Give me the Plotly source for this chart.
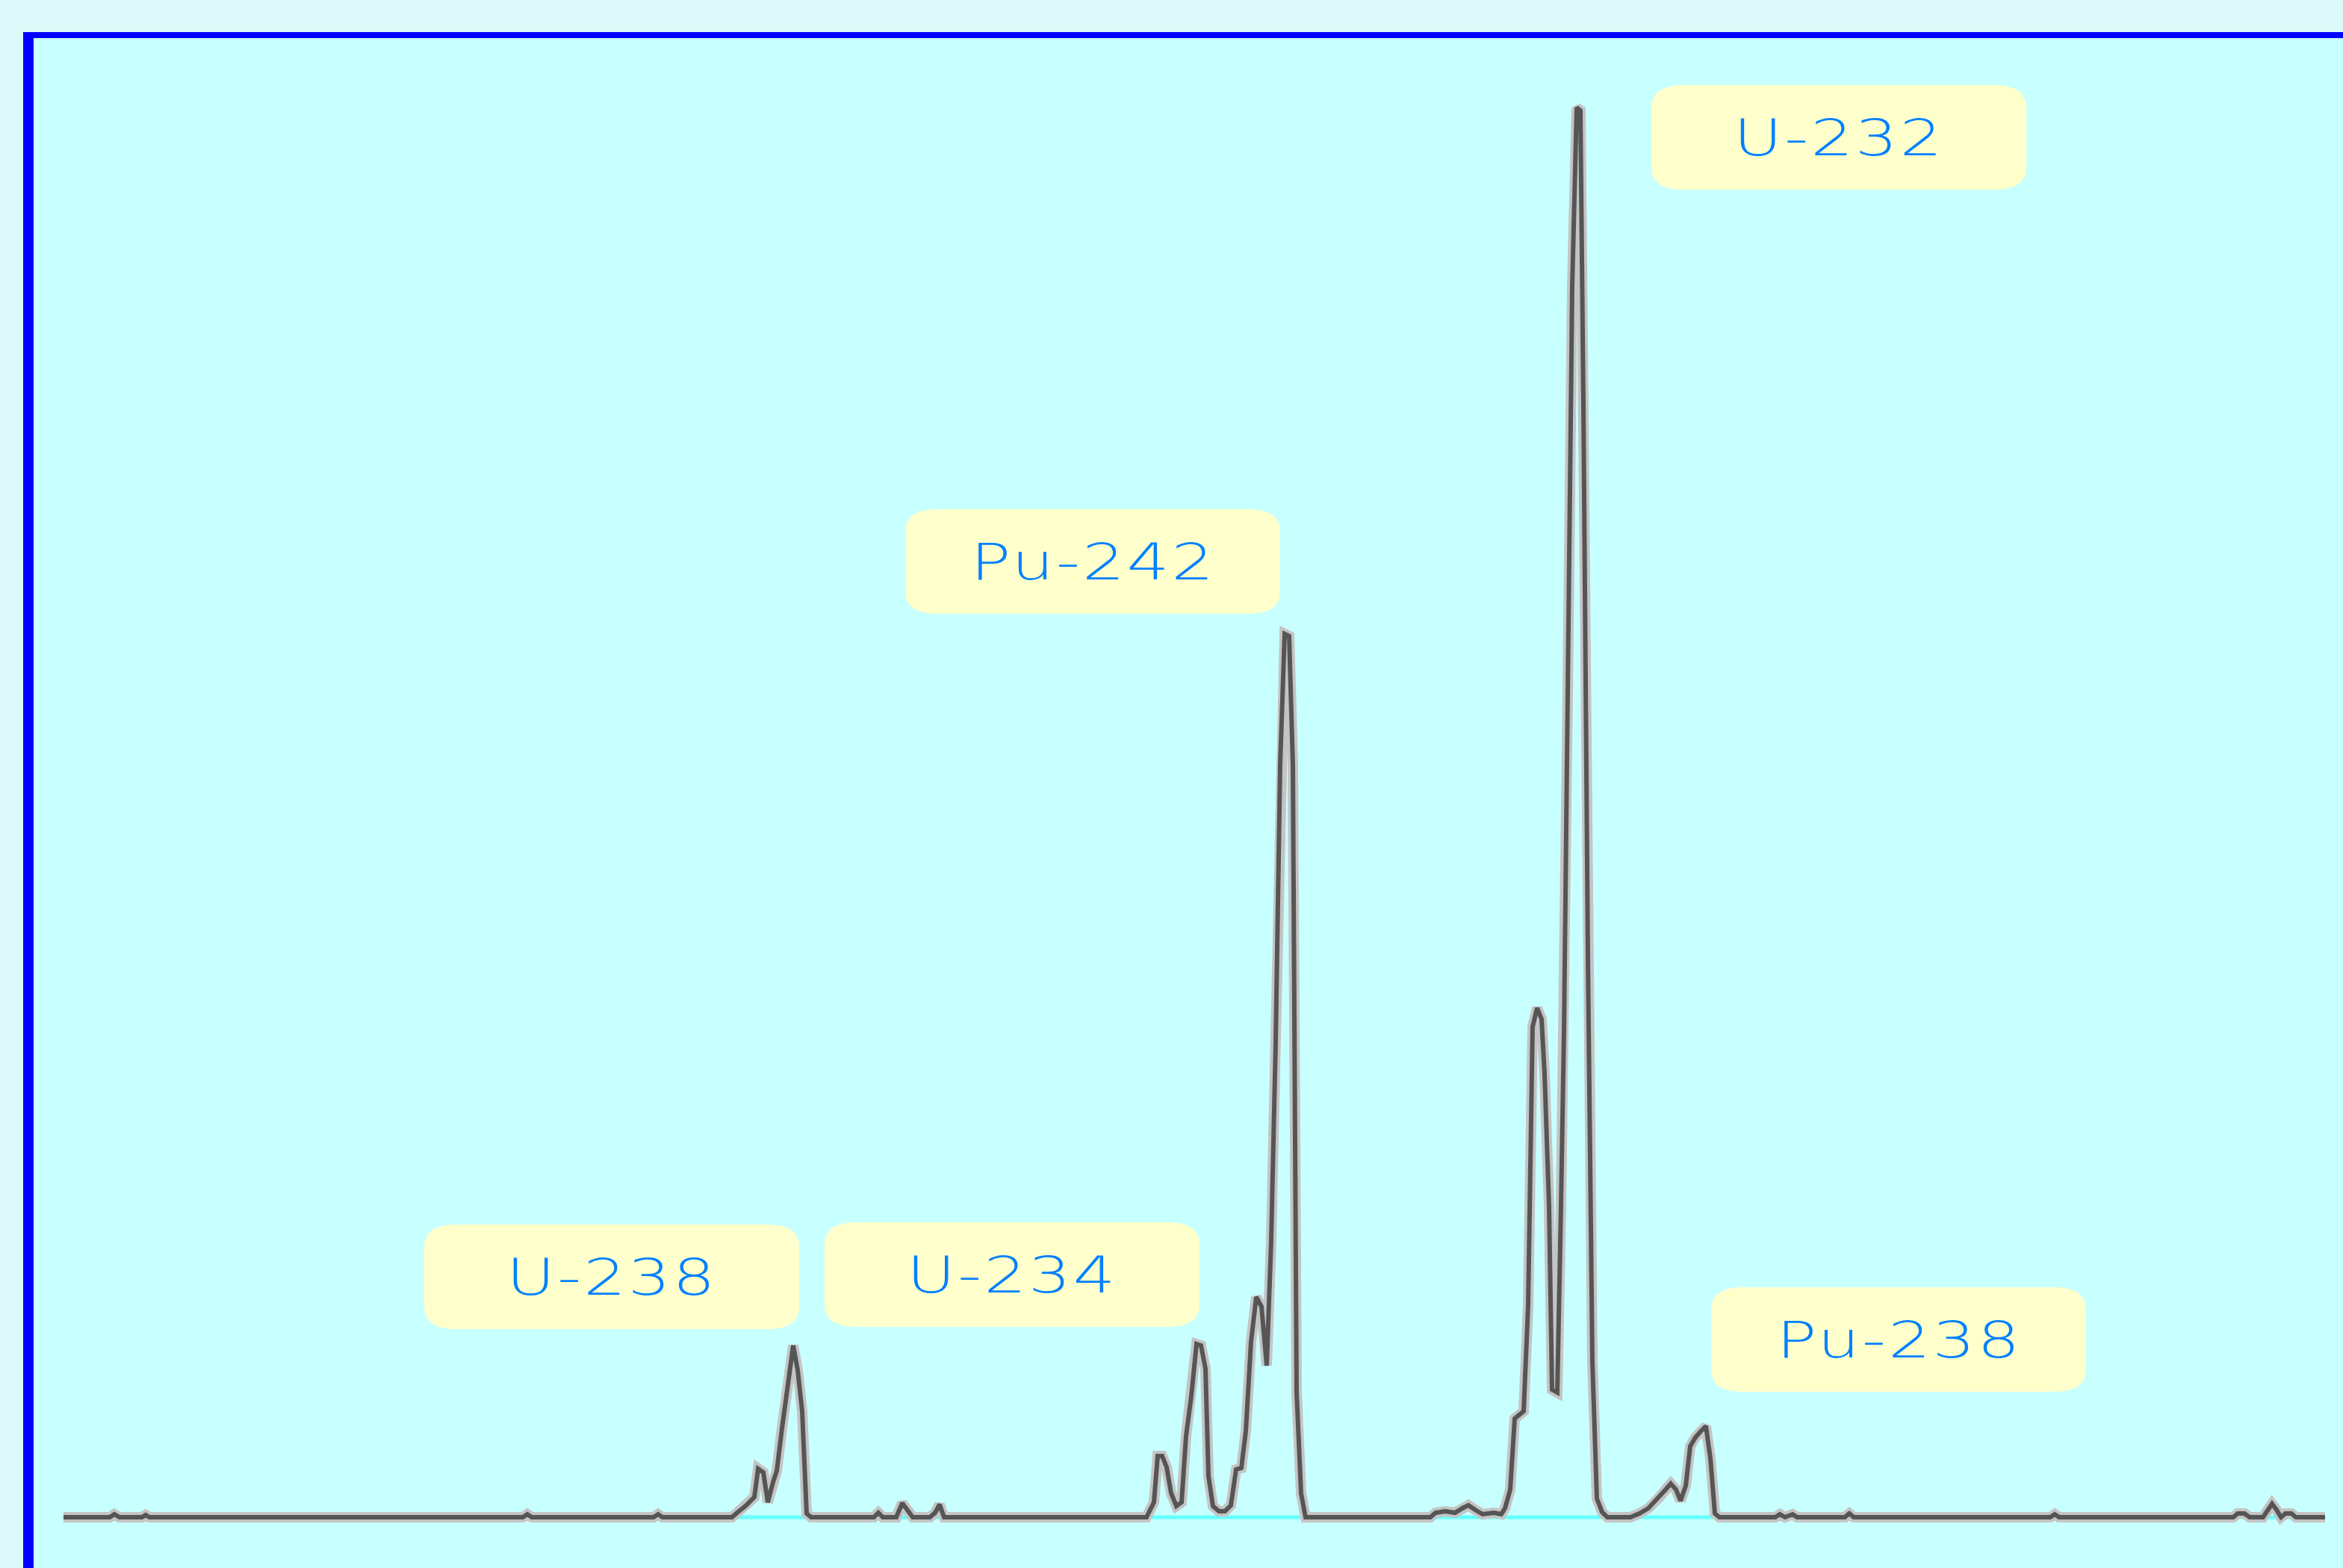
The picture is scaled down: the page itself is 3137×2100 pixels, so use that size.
import plotly.graph_objects as go

# Spectrum trace (scan position, intensity) in arbitrary units
scan_pos = [
    0, 62, 68, 75, 105, 110, 115, 615, 621, 627, 790, 796, 802,
    895, 903, 913, 925, 930, 937, 943, 950, 955, 962, 970, 977, 983, 989, 995, 1001,
    1085, 1091, 1097, 1115, 1123, 1131, 1137, 1160, 1167, 1173, 1179,
    1450, 1455, 1460, 1465, 1471, 1477, 1483, 1490, 1497, 1503, 1510, 1517, 1523, 1529,
    1533, 1539, 1547, 1555, 1563, 1570, 1577, 1583, 1590, 1597, 1604, 1611, 1617, 1623,
    1629, 1635, 1641, 1646, 1651, 1657, 1663,
    1830, 1837, 1850, 1863, 1873, 1881, 1890, 1900, 1915, 1925,
    1930, 1937, 1943, 1955, 1961, 1967, 1973, 1979, 1983, 1989, 1993, 2000, 2005, 2009,
    2014, 2020, 2026, 2031, 2035, 2041, 2047, 2053, 2060, 2067,
    2098, 2110, 2122, 2135, 2145, 2152, 2159, 2165, 2172, 2178, 2185, 2192, 2199, 2205,
    2211, 2217,
    2292, 2298, 2305, 2315, 2321, 2385, 2391, 2397, 2660, 2666, 2672,
    2905, 2911, 2920, 2927, 2945, 2951, 2957, 2963, 2969, 2975, 2983, 2989, 3028,
]
intensity = [
    0, 0, 4, 0, 0, 3, 0, 0, 4, 0, 0, 4, 0,
    0, 7, 15, 27, 65, 60, 20, 47, 62, 119, 182, 230, 197, 142, 5, 0,
    0, 6, 0, 0, 19, 8, 0, 0, 6, 17, 0,
    0, 10, 20, 82, 82, 67, 32, 15, 20, 109, 162, 232, 230, 199,
    55, 15, 8, 8, 16, 64, 66, 115, 235, 295, 282, 203, 371, 636,
    1008, 1183, 1180, 1008, 167, 32, 0,
    0, 6, 8, 6, 12, 16, 10, 4, 6, 4,
    12, 37, 132, 142, 284, 657, 682, 667, 594, 417, 171, 167, 417, 650,
    1105, 1648, 1888, 1884, 1490, 752, 209, 25, 7, 0,
    0, 5, 12, 25, 37, 45, 37, 22, 42, 95, 107, 115, 122, 79,
    5, 0,
    0, 4, 0, 4, 0, 0, 5, 0, 0, 4, 0,
    0, 5, 5, 0, 0, 10, 18, 10, 0, 5, 5, 0, 0,
]

# Peak labels
label_text = ["U-238", "U-234", "Pu-242", "U-232", "Pu-238"]
label_x = [734, 1270, 1378, 2377, 2457]
label_y = [322, 325, 1280, 1848, 238]

BOX_HW, BOX_HH, RX, RY = 251, 70, 42, 30

fig = go.Figure()

# cyan baseline
fig.add_trace(go.Scatter(
    x=[scan_pos[0], scan_pos[-1]], y=[0, 0], mode="lines",
    line=dict(color="#66ffff", width=5), hoverinfo="skip", showlegend=False))
# light halo
fig.add_trace(go.Scatter(
    x=scan_pos, y=intensity, mode="lines",
    line=dict(color="#c4c4c4", width=14), hoverinfo="skip", showlegend=False))
# dark core
fig.add_trace(go.Scatter(
    x=scan_pos, y=intensity, mode="lines",
    line=dict(color="#555555", width=6), showlegend=False))

shapes = []
for cx, cy in zip(label_x, label_y):
    x0, x1 = cx - BOX_HW, cx + BOX_HW
    y0, y1 = cy - BOX_HH, cy + BOX_HH
    path = (f"M {x0+RX},{y0} L {x1-RX},{y0} Q {x1},{y0} {x1},{y0+RY} "
            f"L {x1},{y1-RY} Q {x1},{y1} {x1-RX},{y1} L {x0+RX},{y1} "
            f"Q {x0},{y1} {x0},{y1-RY} L {x0},{y0+RY} Q {x0},{y0} {x0+RX},{y0} Z")
    shapes.append(dict(type="path", path=path, xref="x", yref="y",
                       fillcolor="#ffffcc", line=dict(width=0), layer="above"))

W, H = 3137, 2100
L, T = 45, 51
pw, ph = W - L, H - T
# blue frame (left and top)
shapes.append(dict(type="rect", xref="paper", yref="paper",
                   x0=-14 / pw, x1=0, y0=0, y1=1 + 8 / ph,
                   fillcolor="#0000ff", line=dict(width=0), layer="above"))
shapes.append(dict(type="rect", xref="paper", yref="paper",
                   x0=-14 / pw, x1=1, y0=1, y1=1 + 8 / ph,
                   fillcolor="#0000ff", line=dict(width=0), layer="above"))

annotations = [
    dict(x=x, y=y, xref="x", yref="y", text=t, showarrow=False,
         xanchor="center", yanchor="middle",
         font=dict(family="DejaVu Sans", size=68, color="#0080ff", weight=300))
    for t, x, y in zip(label_text, label_x, label_y)
]

fig.update_layout(
    width=W, height=H,
    margin=dict(l=L, r=0, t=T, b=0, pad=0),
    paper_bgcolor="#dcf8f8",
    plot_bgcolor="#c8ffff",
    xaxis=dict(range=[-40, 3052], visible=False, fixedrange=True),
    yaxis=dict(range=[-68, 1981], visible=False, fixedrange=True),
    shapes=shapes,
    annotations=annotations,
    showlegend=False,
)

fig.write_html(
    "out.html",
    config={"displayModeBar": False},
    post_script="document.body.style.margin='0';document.body.style.padding='0';"
                "document.body.style.overflow='hidden';"
                "document.body.style.background='#dcf8f8';"
                "document.querySelectorAll('.annotation-text').forEach(function(t){"
                "t.style.letterSpacing='2px';t.style.transformBox='fill-box';"
                "t.style.transformOrigin='center';t.style.transform='scaleX(1.32)';});",
)
